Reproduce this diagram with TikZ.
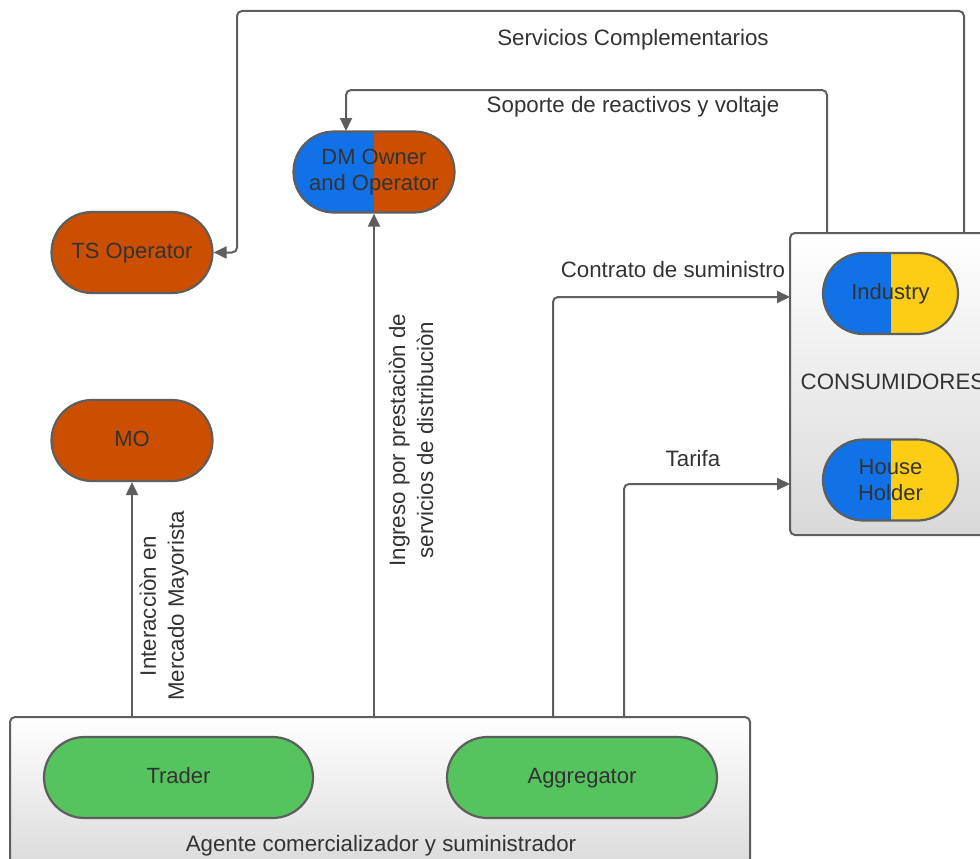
\documentclass[tikz,border=0pt]{standalone}
\usepackage{fontspec}
\setmainfont{Liberation Sans}
\usetikzlibrary{arrows.meta,shapes.misc,calc}
\definecolor{rust}{HTML}{CC4F00}
\definecolor{dmblue}{HTML}{1171E6}
\definecolor{cyellow}{HTML}{FCCD14}
\definecolor{cgreen}{HTML}{55C45E}
\definecolor{edge}{HTML}{5E5E5E}
\definecolor{txt}{HTML}{333333}
\tikzset{
  pill/.style={rounded rectangle, draw=edge, line width=2.2pt, minimum width=161pt, minimum height=81pt, inner sep=0pt, text=txt, align=center, font=\fontsize{22}{26.5}\selectfont},
  oneline/.style={text height=16pt, text depth=4.5pt},
  bipill/.style 2 args={pill, path picture={
      \fill[#1] (path picture bounding box.south west) rectangle (path picture bounding box.north);
      \fill[#2] (path picture bounding box.south) rectangle (path picture bounding box.north east);}},
  groupbox/.style={draw=edge, line width=2pt, rounded corners=5pt, top color=white, bottom color=black!15, inner sep=0pt},
  conn/.style={draw=edge, line width=2pt, rounded corners=5pt, -{Triangle[length=13pt,width=12pt]}},
  lbl/.style={text=txt, font=\fontsize{22.3}{28}\selectfont, align=center, inner sep=0pt},
}
\begin{document}
\begin{tikzpicture}[x=1pt,y=-1pt]
\clip (0,0) rectangle (980,859);
\fill[white] (0,0) rectangle (980,859);
% group boxes
\node[groupbox, minimum width=200pt, minimum height=302pt] (cons) at (890,384) {};
\node[groupbox, minimum width=740pt, minimum height=160pt] (agent) at (380,797) {};
% pills
\node[pill, oneline, fill=rust] (ts) at (132,252.5) {TS Operator};
\node[pill, oneline, fill=rust] (mo) at (132,440.5) {MO};
\node[bipill={dmblue}{rust}] (dm) at (374,172) {DM Owner\\and Operator};
\node[bipill={dmblue}{cyellow}, oneline, minimum width=135pt] (ind) at (890.5,293.5) {Industry};
\node[bipill={dmblue}{cyellow}, minimum width=135pt] (hh) at (890.5,480) {House\\Holder};
\node[pill, oneline, fill=cgreen, minimum width=269pt] (trader) at (178.5,777.5) {Trader};
\node[pill, oneline, fill=cgreen, minimum width=270pt] (agg) at (582,777.5) {Aggregator};
% group labels
\node[lbl] (conslbl) at (893,382) {CONSUMIDORES};
\node[lbl] (agentlbl) at (381,846) {Agente comercializador y suministrador};
% connector anchors
\coordinate (a1) at (553,717);
\coordinate (a2) at (624,717);
\coordinate (c3) at (827,233);
\coordinate (c4) at (964,233);
\coordinate (d1) at (346,131);
\coordinate (e1) at (790,297);
\coordinate (e2) at (790,484);
% connectors
\draw[conn] (mo.south |- agent.north) -- (mo.south);
\draw[conn] (dm.south |- agent.north) -- (dm.south);
\draw[conn] (a1) |- (e1);
\draw[conn] (a2) |- (e2);
\draw[conn] (c3) -- (827,90) -- (346,90) -- (d1);
\draw[conn] (c4) -- (964,11) -- (237,11) -- (237,252.5) -- (ts.east);
% labels
\node[lbl, rotate=90] (l1) at (164,606) {Interacciòn en\\Mercado Mayorista};
\node[lbl, rotate=90] (l2) at (411,440) {Ingreso por prestaciòn de\\servicios de distribuciòn};
\node[lbl] (l3) at (673,270) {Contrato de suministro};
\node[lbl] (l4) at (693,459) {Tarifa};
\node[lbl] (l5) at (633,107) {Soporte de reactivos y voltaje};
\node[lbl] (l6) at (633,40) {Servicios Complementarios};
\end{tikzpicture}
\end{document}
